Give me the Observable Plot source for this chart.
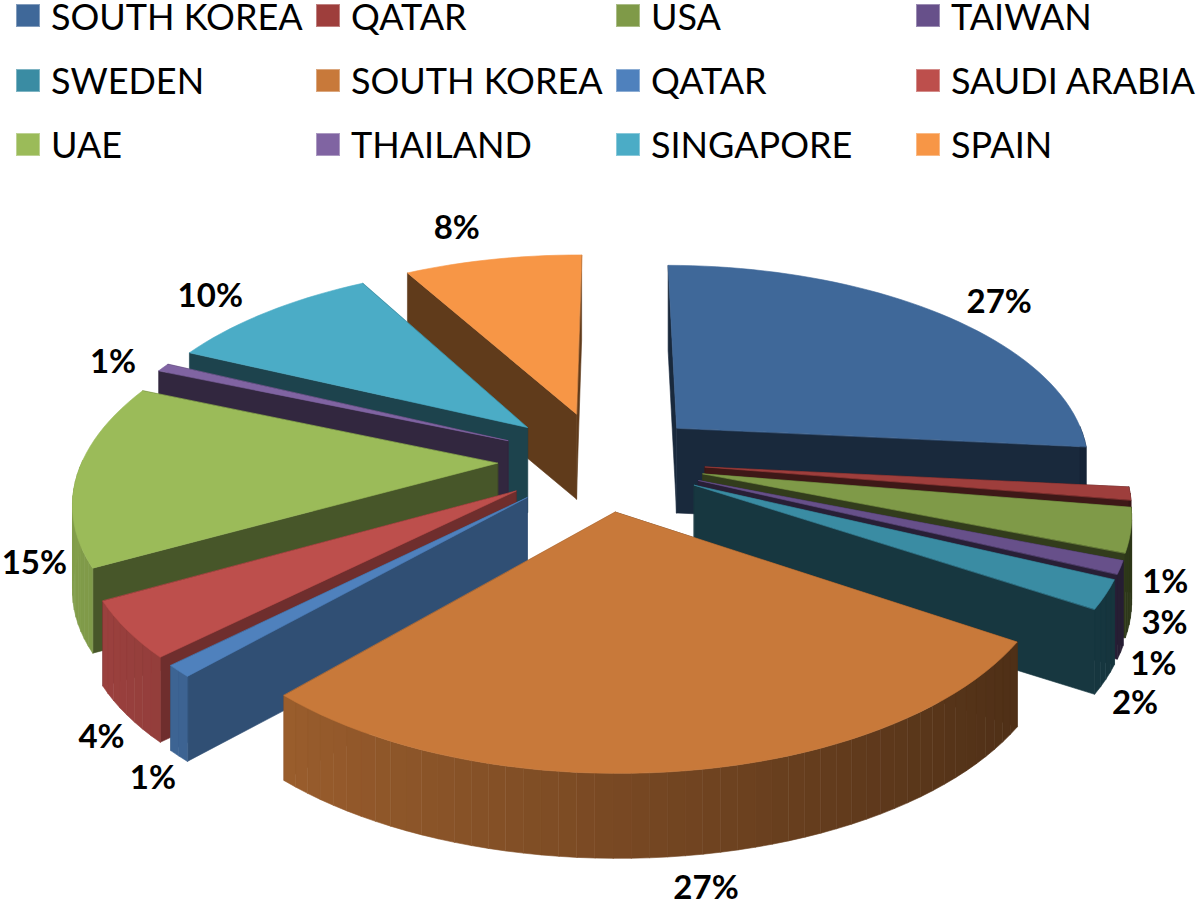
<!DOCTYPE html>
<html><head><meta charset="utf-8">
<script src="https://cdn.jsdelivr.net/npm/d3@7"></script>
<script src="https://cdn.jsdelivr.net/npm/@observablehq/plot@0.6"></script>
<style>
html,body{margin:0;background:#fff}
#legend{position:relative;width:1200px;height:190px;font-family:Lato,sans-serif;font-size:36px;color:#000}
#legend .k{position:absolute;white-space:nowrap;line-height:30px;height:30px}
#legend .s{position:absolute;height:23px;box-sizing:border-box;border:1px solid rgba(255,255,255,.35)}
svg{display:block}
</style></head><body>
<div id="legend"></div><div id="chart"></div>
<script>
const names=["SOUTH KOREA","QATAR","USA","TAIWAN","SWEDEN","SOUTH KOREA","QATAR","SAUDI ARABIA","UAE","THAILAND","SINGAPORE","SPAIN"];
// Visible slice sizes as measured in the picture (perspective skews them a little)
const shares=[26.47,1.0,3.4,1.0,2.2,27.6,0.9,4.33,14.3,0.67,9.89,8.24];
// Percent labels as printed on the picture
const percents=[27,1,3,1,2,27,1,4,15,1,10,8];
const colors=["#3F6899","#9E3E3C","#7F9A48","#67508A","#3A8CA3","#C8793A","#4F81BD","#BD4F4C","#9BBB59","#8064A2","#4BACC6","#F79646"];

// Pseudo-3D pie geometry
const START=0.3,R=415,EX=104,K=0.48,D=2526,H=85;
const total=d3.sum(shares);
const rad=a=>a*Math.PI/180;
const project=(X,V,drop=0)=>{const s=1/(1+V/D);return {x:X*s,y:K*V*s-drop};};
const shade=(c,f)=>{const r=d3.rgb(c);return d3.rgb(r.r*f,r.g*f,r.b*f).formatHex();};

let cum=0;
const slices=shares.map((v,i)=>{
  const a0=START+cum/total*360;cum+=v;const a1=START+cum/total*360;const mid=(a0+a1)/2;
  return {i,a0,a1,mid,ox:EX*Math.sin(rad(mid)),ov:EX*Math.cos(rad(mid)),color:colors[i]};
});
const poly=[];let id=0;
const add=(pts,c)=>{id++;for(const p of pts)poly.push({id,x:p.x,y:p.y,c});};
const rim=(s,a,drop=0)=>project(s.ox+R*Math.sin(rad(a)),s.ov+R*Math.cos(rad(a)),drop);
const wallShade=a=>(a>180?0.39+Math.max(0,Math.min(1,(250-a)/30))*0.24:0.39);
const wall=(s,a)=>add([project(s.ox,s.ov),rim(s,a),rim(s,a,H),project(s.ox,s.ov,H)],shade(s.color,wallShade(a)));
const order=[...slices].sort((p,q)=>Math.cos(rad(q.mid))-Math.cos(rad(p.mid)));
for(const s of order){
  if(s.mid<180){wall(s,s.a0);wall(s,s.a1);}else{wall(s,s.a1);wall(s,s.a0);}
  const n=Math.max(2,Math.ceil((s.a1-s.a0)/2));
  const st=(s.a1-s.a0)/n;
  for(let j=0;j<n;j++){
    const a=s.a0+j*st,b=a+st,m=a+st/2;
    if(Math.cos(rad(m))>0.02)continue;
    const f=0.6-0.25*Math.sin(rad(m));
    add([rim(s,a),rim(s,b),rim(s,b,H),rim(s,a,H)],shade(s.color,f));
  }
  const top=[project(s.ox,s.ov)];
  for(let j=0;j<=n;j++)top.push(rim(s,s.a0+j*st));
  add(top,s.color);
}

// Label placement around each slice: radial gain and angular turn
const labelGain=[1.18,1.116,1.157,1.195,1.235,1.347,1.28,1.254,1.11,1.136,1.196,1.25];
const labelTurn=[2.95,20.5,19.1,17.3,17.4,0.8,-11.7,-14.9,-21.4,-1.5,-2.1,-2.6];
const labels=slices.map(s=>{
  const a=s.mid+labelTurn[s.i],r=R*labelGain[s.i];
  const p=project(s.ox+r*Math.sin(rad(a)),s.ov+r*Math.cos(rad(a)));
  return {x:p.x,y:p.y,t:percents[s.i]+"%"};
});

const chart=Plot.plot({
  width:1200,height:710,margin:0,
  style:{background:"#fff",overflow:"visible"},
  x:{domain:[-601,599],axis:null},
  y:{domain:[-440,270],axis:null},
  color:{type:"identity"},
  marks:[
    Plot.line(poly,{x:"x",y:"y",z:"id",fill:"c",stroke:"c",strokeWidth:0.6,curve:"linear-closed"}),
    Plot.text(labels,{x:"x",y:"y",text:"t",fontFamily:"Lato, sans-serif",fontWeight:"bold",fontSize:33,fill:"#000"})
  ]
});
document.getElementById("chart").append(chart);

const L=document.getElementById("legend");
names.forEach((n,i)=>{
  const col=i%4,row=Math.floor(i/4);
  const sw=document.createElement("div");sw.className="s";
  sw.style.cssText=`left:${16+col*300}px;top:${4+row*64.5}px;width:24px;background:${colors[i]}`;
  const t=document.createElement("div");t.className="k";t.textContent=n;
  t.style.cssText=`left:${51+col*300}px;top:${1+row*64}px`;
  L.append(sw,t);
});
</script></body></html>
